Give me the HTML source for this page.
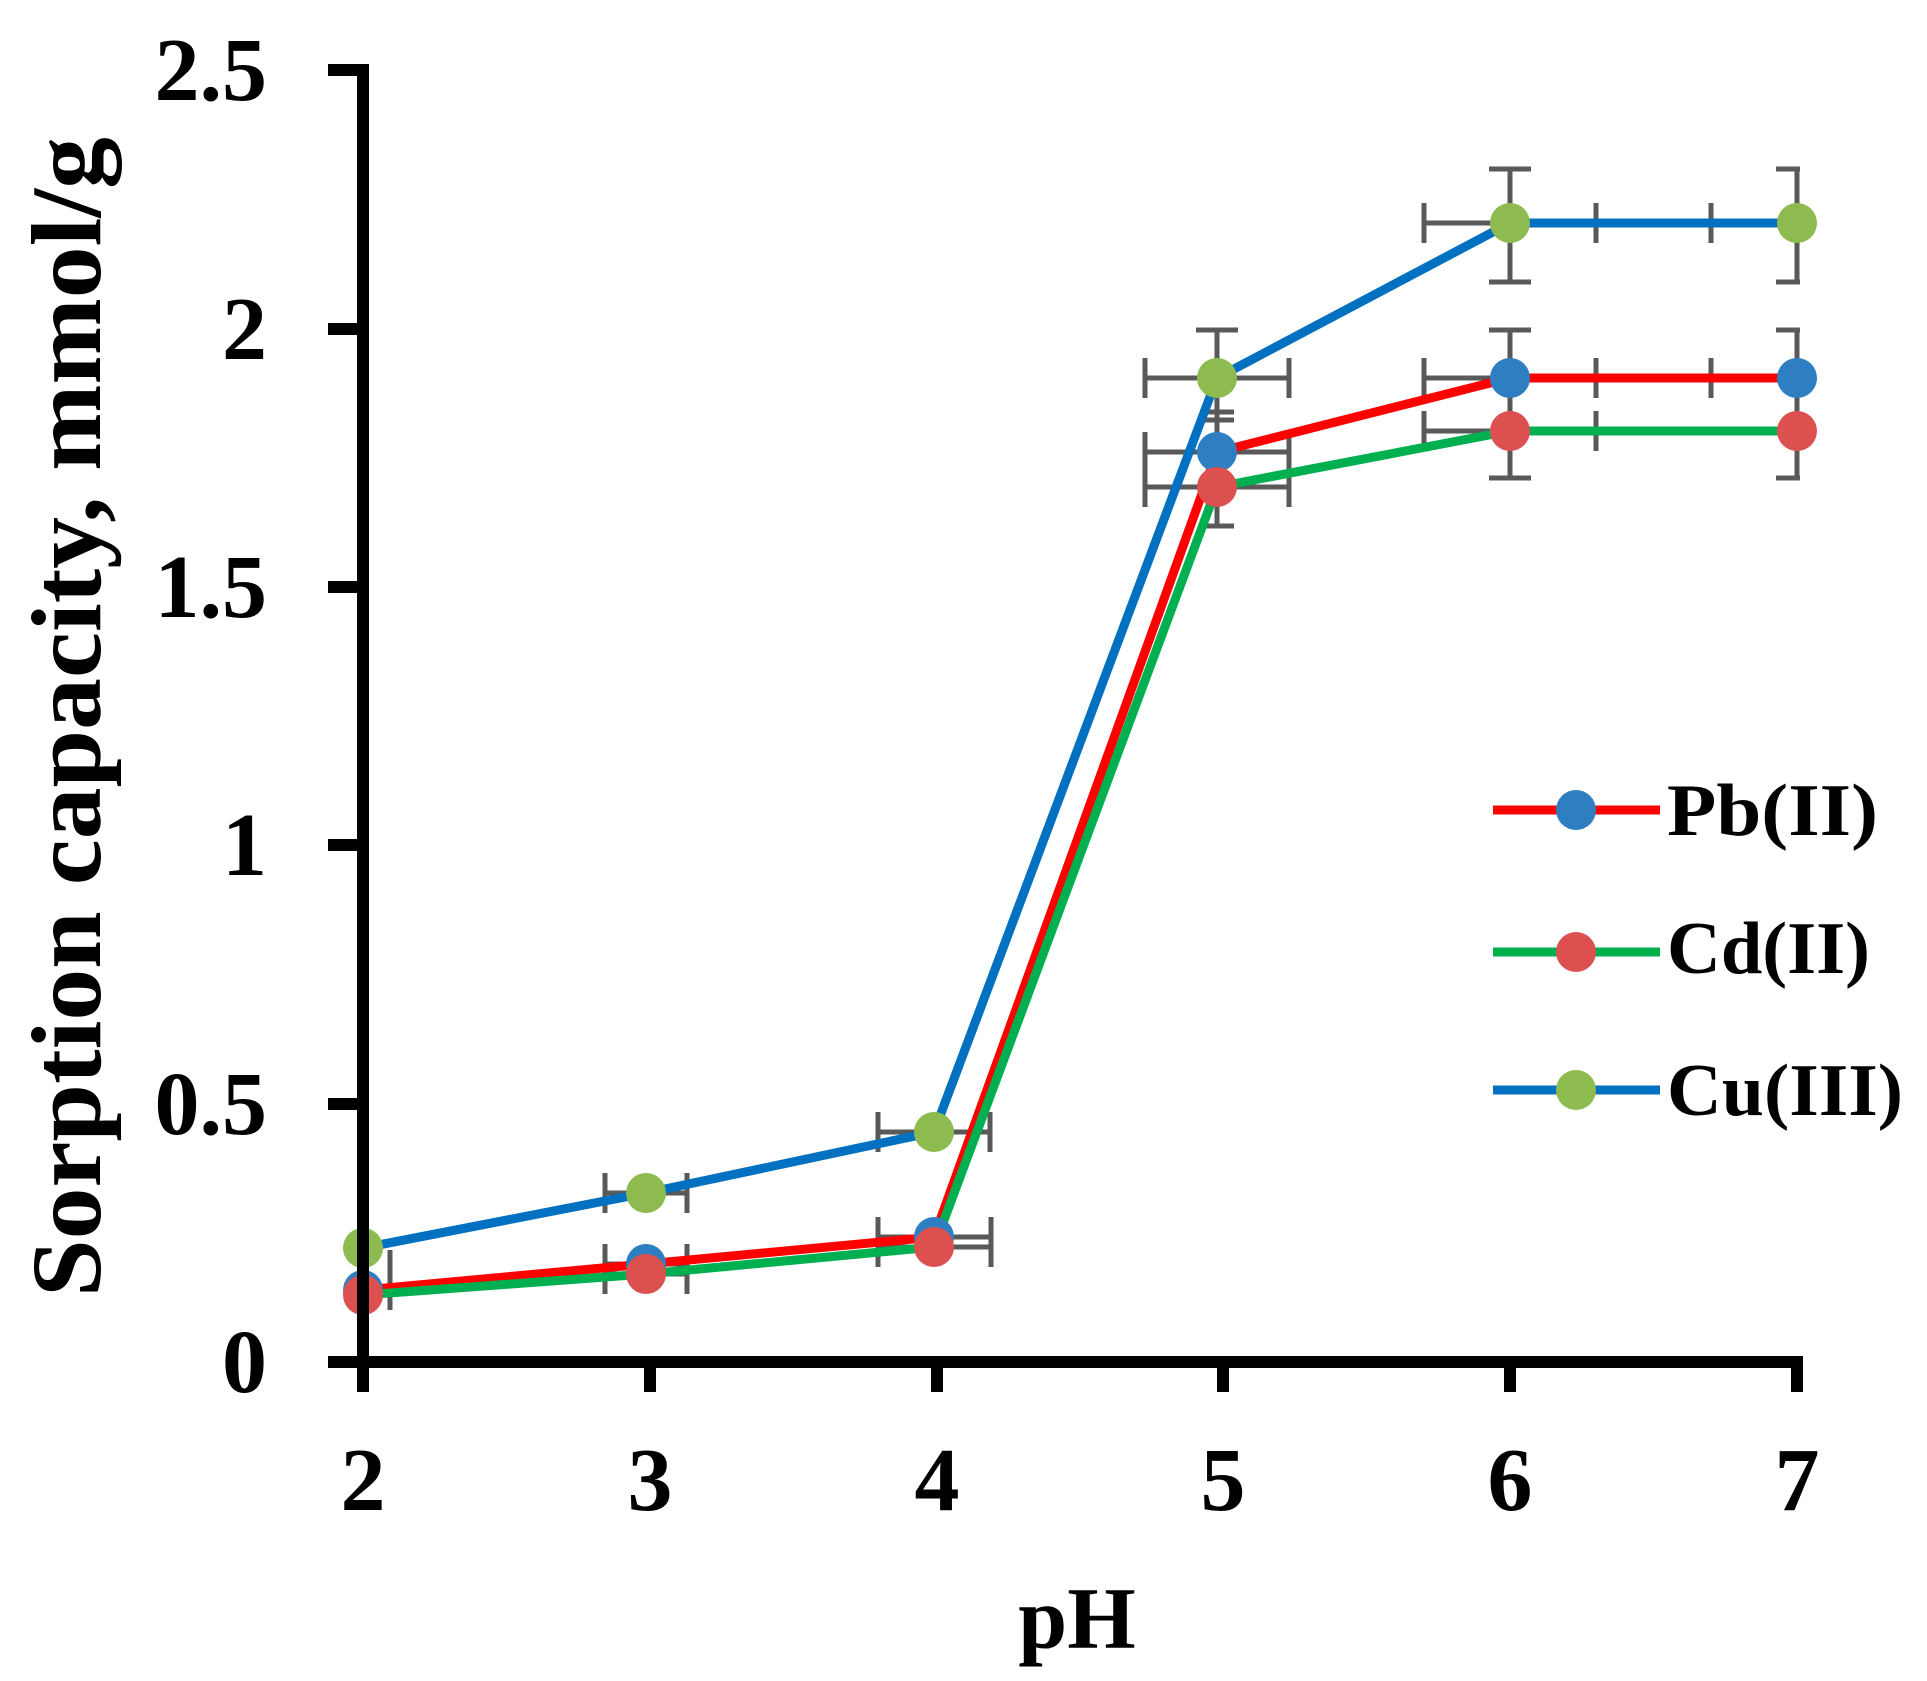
<!DOCTYPE html>
<html><head><style>html,body{margin:0;padding:0;background:#fff;}svg{display:block}</style></head>
<body>
<svg width="1927" height="1681" viewBox="0 0 1927 1681" xmlns="http://www.w3.org/2000/svg" font-family="'Liberation Serif', serif" font-weight="bold">
<defs><clipPath id="pa"><rect x="300" y="0" width="1500" height="1681"/></clipPath></defs>
<g clip-path="url(#pa)" stroke="#595959" stroke-width="5" fill="none">
<!-- Cu error bars -->
<path d="M1424 223H1596M1424 203V243M1596 203V243M1510 169V282M1489 169H1531M1489 282H1531"/>
<path d="M1711 223H1883M1711 203V243M1797 169V282M1776 169H1818M1776 282H1818"/>
<path d="M1145 378H1289M1145 358V398M1289 358V398M1217 330V426M1196 330H1238"/>
<path d="M878 1132H990M878 1112V1152M990 1112V1152"/>
<path d="M605 1193H687M605 1173V1213M687 1173V1213"/>
<path d="M390 1248V1248"/>
<!-- Pb error bars -->
<path d="M1424 378H1596M1424 358V398M1596 358V398M1510 330V426M1489 330H1531"/>
<path d="M1711 378H1883M1711 358V398M1797 330V426M1776 330H1818"/>
<path d="M1145 452H1289M1145 432V472M1289 432V472M1217 412V492M1200 412H1234M1200 420H1234"/>
<path d="M878 1237H991M878 1217V1257M991 1217V1257"/>
<path d="M605 1264H687M605 1244V1284M687 1244V1284"/>
<path d="M390 1250V1310"/>
<!-- Cd error bars -->
<path d="M1424 431H1596M1424 411V451M1596 411V451M1510 384V478M1489 478H1531"/>
<path d="M1711 431H1883M1797 384V478M1776 478H1818"/>
<path d="M1145 487H1289M1145 467V507M1289 467V507M1217 450V526M1200 526H1234"/>
<path d="M878 1247H991M878 1227V1267M991 1227V1267"/>
<path d="M605 1274H687M605 1254V1294M687 1254V1294"/>
</g>
<g fill="none" stroke-width="9" stroke-linejoin="round">
<polyline stroke="#FF0000" points="363,1290 646,1264 934,1237 1217,452 1510,378 1797,378"/>
<polyline stroke="#00B050" points="363,1295 646,1274 934,1247 1217,487 1510,431 1797,431"/>
<polyline stroke="#0070C0" points="363,1248 646,1193 934,1132 1217,378 1510,223 1797,223"/>
</g>
<g fill="#2E7FC1">
<circle cx="363" cy="1290" r="20"/><circle cx="646" cy="1264" r="20"/><circle cx="934" cy="1237" r="20"/><circle cx="1217" cy="452" r="20"/><circle cx="1510" cy="378" r="20"/><circle cx="1797" cy="378" r="20"/>
</g>
<g fill="#DD5050">
<circle cx="363" cy="1295" r="20"/><circle cx="646" cy="1274" r="20"/><circle cx="934" cy="1247" r="20"/><circle cx="1217" cy="487" r="20"/><circle cx="1510" cy="431" r="20"/><circle cx="1797" cy="431" r="20"/>
</g>
<g fill="#8DBB4F">
<circle cx="363" cy="1248" r="20"/><circle cx="646" cy="1193" r="20"/><circle cx="934" cy="1132" r="20"/><circle cx="1217" cy="378" r="20"/><circle cx="1510" cy="223" r="20"/><circle cx="1797" cy="223" r="20"/>
</g>
<!-- axes -->
<g stroke="#000" stroke-width="12" fill="none">
<path d="M363 64V1368M328 1362H1803"/>
<path d="M328 70H363M328 329H363M328 587H363M328 845H363M328 1104H363"/>
<path d="M363 1362V1392M650 1362V1392M937 1362V1392M1223 1362V1392M1510 1362V1392M1797 1362V1392"/>
</g>
<g font-size="90" fill="#000" text-anchor="end">
<text x="267" y="100">2.5</text><text x="267" y="359">2</text><text x="267" y="617">1.5</text><text x="267" y="875">1</text><text x="267" y="1134">0.5</text><text x="267" y="1392">0</text>
</g>
<g font-size="90" fill="#000" text-anchor="middle">
<text x="363" y="1510">2</text><text x="650" y="1510">3</text><text x="937" y="1510">4</text><text x="1223" y="1510">5</text><text x="1510" y="1510">6</text><text x="1797" y="1510">7</text>
</g>
<text x="1077" y="1648" font-size="88" text-anchor="middle">pH</text>
<text transform="translate(100,1297) rotate(-90)" font-size="100" textLength="1160" lengthAdjust="spacingAndGlyphs">Sorption capacity, mmol/g</text>
<!-- legend -->
<g stroke-width="9">
<line x1="1493" y1="810" x2="1660" y2="810" stroke="#FF0000"/>
<line x1="1493" y1="952" x2="1660" y2="952" stroke="#00B050"/>
<line x1="1493" y1="1090" x2="1660" y2="1090" stroke="#0070C0"/>
</g>
<circle cx="1576" cy="810" r="20" fill="#2E7FC1"/>
<circle cx="1576" cy="952" r="20" fill="#DD5050"/>
<circle cx="1576" cy="1090" r="20" fill="#8DBB4F"/>
<g font-size="74" fill="#000">
<text x="1667" y="835" textLength="211" lengthAdjust="spacingAndGlyphs">Pb(II)</text>
<text x="1667" y="973" textLength="203" lengthAdjust="spacingAndGlyphs">Cd(II)</text>
<text x="1667" y="1115" textLength="236" lengthAdjust="spacingAndGlyphs">Cu(III)</text>
</g>
</svg>
</body></html>
